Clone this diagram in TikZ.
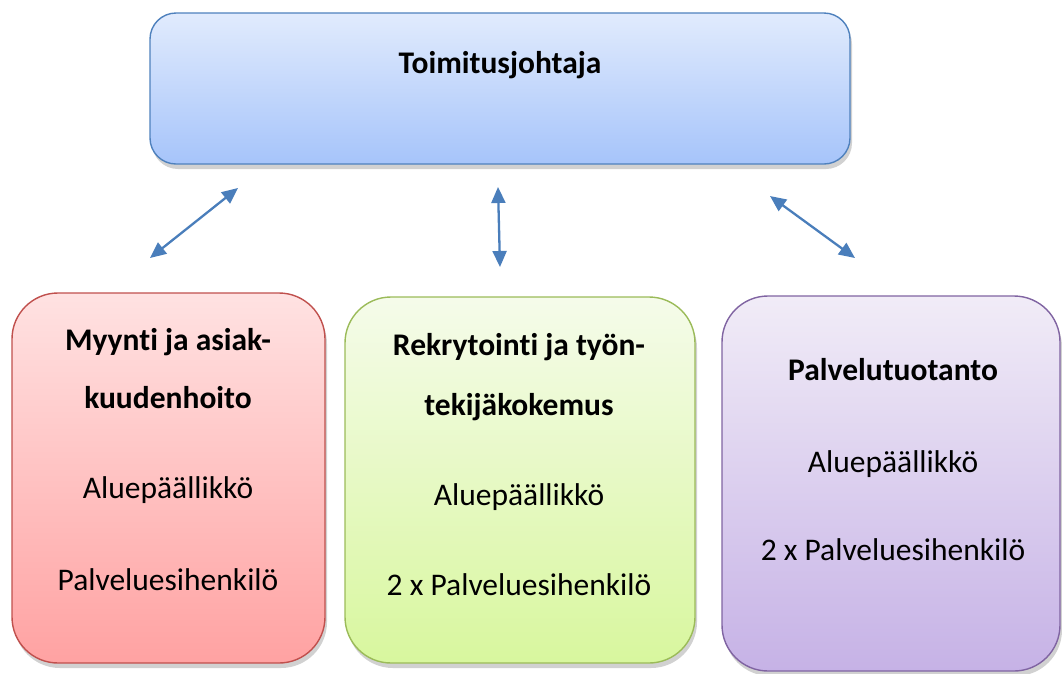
\documentclass[tikz,border=0pt]{standalone}
\usepackage{fontspec}
\setmainfont[RawFeature={-liga;-clig;-dlig}]{Carlito}
\usetikzlibrary{shadows,arrows.meta}
\definecolor{bluebd}{HTML}{4F81BD}
\definecolor{bluetop}{HTML}{E1EBFD}
\definecolor{bluebot}{HTML}{A6C4FA}
\definecolor{redbd}{HTML}{C0504D}
\definecolor{redtop}{HTML}{FFE2E2}
\definecolor{redbot}{HTML}{FFA2A2}
\definecolor{greenbd}{HTML}{9BBB59}
\definecolor{greentop}{HTML}{F5FBEA}
\definecolor{greenbot}{HTML}{D8F79E}
\definecolor{purplebd}{HTML}{8064A2}
\definecolor{purpletop}{HTML}{F1ECF7}
\definecolor{purplebot}{HTML}{C6B2E6}
\definecolor{arrowblue}{HTML}{4A7EBB}
\tikzset{
  box/.style={draw, line width=1.4pt, inner sep=0pt, outer sep=0pt,
    drop shadow={shadow xshift=2pt, shadow yshift=-5pt, opacity=0.18, fill=black}},
  txt/.style={anchor=base, inner sep=0pt, font=\fontsize{31.5}{36}\selectfont},
  btxt/.style={txt, font=\fontsize{31.5}{36}\selectfont\bfseries},
  link/.style={draw=arrowblue, line width=2.3pt, {Triangle[length=16pt,width=14pt]}-{Triangle[length=16pt,width=14pt]}}
}
\begin{document}
\begin{tikzpicture}[x=1pt,y=-1pt]
\useasboundingbox (0,0) rectangle (1062,673);
% top box
\node[box, draw=bluebd, top color=bluetop, bottom color=bluebot, rounded corners=26pt,
  minimum width=700pt, minimum height=151pt] (ceo) at (500,88.5) {};
\node[btxt] (ceot) at (500,73) {Toimitusjohtaja};
% left box
\node[box, draw=redbd, top color=redtop, bottom color=redbot, rounded corners=46pt,
  minimum width=313pt, minimum height=370pt] (sales) at (168.5,478) {};
\node[btxt] (s1) at (168,350) {Myynt\kern0pt i ja asiak-};
\node[btxt] (s2) at (168,408) {kuudenhoito};
\node[txt] (s3) at (168,498) {Aluepäällikkö};
\node[txt] (s4) at (168,590) {Palveluesihenkilö};
% middle box
\node[box, draw=greenbd, top color=greentop, bottom color=greenbot, rounded corners=46pt,
  minimum width=350pt, minimum height=366pt] (rec) at (520,480) {};
\node[btxt] (r1) at (519,355) {Rekrytoint\kern0pt i ja työn-};
\node[btxt] (r2) at (519,415) {tekijäkokemus};
\node[txt] (r3) at (519,505) {Aluepäällikkö};
\node[txt] (r4) at (519,595) {2 x Palveluesihenkilö};
% right box
\node[box, draw=purplebd, top color=purpletop, bottom color=purplebot, rounded corners=46pt,
  minimum width=338pt, minimum height=375pt] (prod) at (891,483.5) {};
\node[btxt] (p1) at (893,380) {Palvelutuotanto};
\node[txt] (p2) at (893,472) {Aluepäällikkö};
\node[txt] (p3) at (893,560) {2 x Palveluesihenkilö};
% arrow end points
\coordinate (a1) at (150,258);
\coordinate (a2) at (238,188);
\coordinate (b1) at (498,187);
\coordinate (b2) at (500,267);
\coordinate (c1) at (770,196);
\coordinate (c2) at (855,258);
\draw[link] (a1) -- (a2);
\draw[link] (b1) -- (b2);
\draw[link] (c1) -- (c2);
\end{tikzpicture}
\end{document}
